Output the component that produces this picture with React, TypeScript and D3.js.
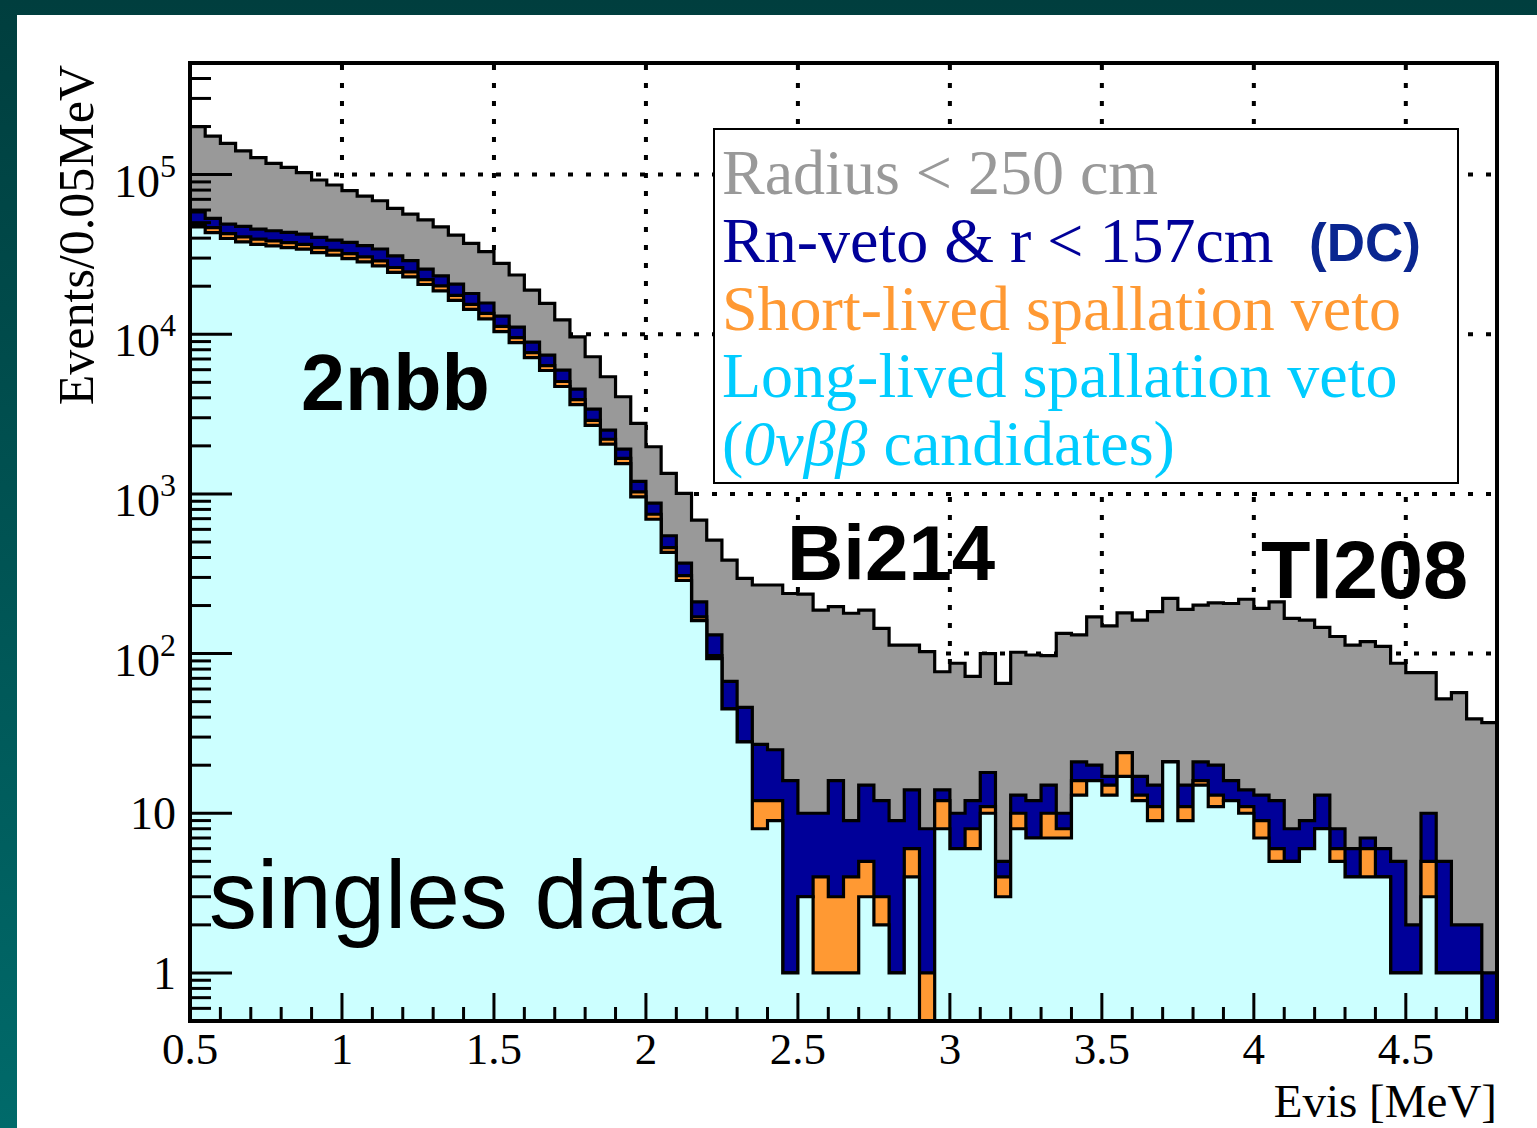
import React from 'react';
import * as d3 from 'd3';

// Histogram binning (Evis, MeV)
const binLow = 0.5;
const binWidth = 0.05;

// Radius < 250 cm (grey)
const radius250 = [199500, 174200, 157000, 140600, 127600, 117700, 111000, 102800, 92500, 86100,
  79300, 73400, 68600, 61500, 56600, 52000, 47100, 41800, 37100, 32900,
  27800, 23500, 18900, 15600, 12300, 9640, 7230, 5420, 4060, 2770,
  1975, 1346, 1009, 686, 514, 385, 296, 269, 269, 238,
  236, 187, 197, 179, 187, 144, 113, 113, 103, 77,
  87, 72, 100, 65, 102, 98, 97, 134, 131, 170,
  149, 180, 162, 183, 222, 189, 201, 208, 206, 219,
  192, 211, 166, 162, 146, 128, 113, 119, 111, 87,
  76, 76, 52, 57, 39, 37];

// Rn-veto & r < 157cm (DC) (navy)
const rnVeto = [58500, 53200, 49000, 47400, 45600, 44500, 43500, 42400, 40400, 38900,
  37600, 35900, 34200, 31000, 28900, 25600, 23200, 20600, 18000, 15700,
  13000, 11100, 8930, 7410, 5970, 4540, 3400, 2510, 1910, 1200,
  877, 547, 369, 211, 131, 67, 46, 27, 25, 16,
  10, 10, 16, 9, 15, 12, 9, 14, 8, 14,
  10, 12, 18, 5, 13, 12, 15, 10, 21, 20,
  17, 24, 17, 15, 21, 15, 21, 20, 16, 14,
  13, 12, 8, 9, 13, 8, 6, 7, 6, 5,
  2, 10, 5, 2, 2, 1];

// Short-lived spallation veto (orange)
const shortVeto = [48300, 46600, 42700, 40700, 39400, 38500, 37500, 36600, 34900, 33600,
  32000, 30500, 28800, 26200, 24600, 22000, 20100, 17500, 15400, 13500,
  11200, 9530, 7680, 6370, 5060, 3900, 2890, 2200, 1670, 1030,
  746, 461, 308, 170, 97, 45, 28, 12, 12, 1,
  3, 4, 3, 4, 5, 3, 1, 6, 1, 12,
  6, 8, 11, 4, 10, 7, 10, 8, 16, 16,
  15, 24, 13, 11, 21, 11, 16, 13, 12, 11,
  9, 6, 5, 6, 8, 6, 4, 6, 4, 1,
  1, 5, 1, 1, 1, 0];

// Long-lived spallation veto (0vbb candidates) (light cyan)
const longVeto = [47000, 43300, 39800, 37900, 36600, 35800, 34900, 34100, 32500, 31300,
  29800, 28400, 26800, 24400, 22900, 20500, 18700, 16300, 14300, 12500,
  10400, 8870, 7150, 5930, 4710, 3630, 2690, 2050, 1550, 959,
  694, 430, 287, 161, 93, 45, 28, 8, 9, 1,
  3, 1, 1, 1, 3, 2, 1, 4, 0, 8,
  6, 6, 10, 3, 8, 7, 7, 7, 13, 16,
  13, 17, 12, 9, 21, 9, 15, 11, 12, 10,
  7, 5, 5, 6, 8, 5, 4, 4, 4, 1,
  1, 3, 1, 1, 1, 0];

const xTickLabels = ['0.5', '1', '1.5', '2', '2.5', '3', '3.5', '4', '4.5'];
const yDecadeExps = [0, 1, 2, 3, 4, 5];

const SERIF = '"Liberation Serif", "Times New Roman", "DejaVu Serif", serif';
const SANS = '"Liberation Sans", Arial, Helvetica, sans-serif';

export default function App() {
  const W = 1537;
  const H = 1128;
  const left = 190, right = 1497, top = 63, bottom = 1021;
  const x = d3.scaleLinear().domain([0.5, 4.8]).range([left, right]);
  const y = d3.scaleLog().domain([0.5, 5e5]).range([bottom, top]);
  const yv = (v: number) => (v > 0 ? y(Math.max(v, 0.5)) : bottom);

  const toPts = (vals: number[]) => {
    const pts = vals.map((v, i) => [x(binLow + i * binWidth), yv(v)] as [number, number]);
    pts.push([x(binLow + vals.length * binWidth), yv(vals[vals.length - 1])]);
    return pts;
  };
  const area = d3.area<[number, number]>().x(d => d[0]).y0(bottom).y1(d => d[1]).curve(d3.curveStepAfter);
  const line = d3.line<[number, number]>().x(d => d[0]).y(d => d[1]).curve(d3.curveStepAfter);
  const outline = (vals: number[]) => {
    const pts = toPts(vals);
    const all: [number, number][] = [[pts[0][0], bottom], ...pts, [pts[pts.length - 1][0], bottom]];
    return line(all) as string;
  };

  const hists = [
    { vals: radius250, fill: '#999999' },
    { vals: rnVeto, fill: '#000099' },
    { vals: shortVeto, fill: '#ff9933' },
    { vals: longVeto, fill: '#ccffff' },
  ];

  // ticks
  const xMinor: number[] = [];
  for (let i = 0; i <= 43; i++) xMinor.push(+(0.5 + i * 0.1).toFixed(2));
  const xMajor = xTickLabels.map(Number);
  const yMinor: number[] = [];
  for (let d = -1; d <= 5; d++) for (let k = 2; k <= 9; k++) {
    const v = k * Math.pow(10, d);
    if (v >= 0.5 && v <= 5e5) yMinor.push(v);
  }
  const yMajor = yDecadeExps.map(e => Math.pow(10, e));

  return (
    <svg width={W} height={H} style={{ position: 'absolute', left: 0, top: 0, display: 'block' }}
      xmlns="http://www.w3.org/2000/svg">
      <defs>
        <linearGradient id="bgGrad" x1="0" y1="0" x2="0" y2="1">
          <stop offset="0" stopColor="#003e3e" />
          <stop offset="1" stopColor="#006a6a" />
        </linearGradient>
      </defs>
      <rect x={0} y={0} width={W} height={H} fill="url(#bgGrad)" />
      <rect x={17} y={15} width={W - 17} height={H - 15} fill="#ffffff" />

      {/* grid */}
      <g stroke="#000" strokeWidth={4} strokeDasharray="5 13">
        {xMajor.filter(v => v > 0.5).map(v => (
          <line key={'gx' + v} x1={x(v)} x2={x(v)} y1={top + 2} y2={bottom} />
        ))}
        {yMajor.map(v => (
          <line key={'gy' + v} x1={left} x2={right} y1={y(v)} y2={y(v)} />
        ))}
      </g>

      {/* histograms */}
      {hists.map((h, i) => (
        <g key={'h' + i}>
          <path d={area(toPts(h.vals)) as string} fill={h.fill} stroke="none" />
          <path d={outline(h.vals)} fill="none" stroke="#000" strokeWidth={3.2} strokeLinejoin="miter" />
        </g>
      ))}

      {/* ticks */}
      <g stroke="#000" strokeWidth={3}>
        {xMinor.map(v => {
          const major = xMajor.some(m => Math.abs(m - v) < 1e-6);
          return <line key={'tx' + v} x1={x(v)} x2={x(v)} y1={bottom} y2={bottom - (major ? 28 : 14)} />;
        })}
        {yMinor.map(v => (
          <line key={'tym' + v} x1={left} x2={left + 21} y1={y(v)} y2={y(v)} />
        ))}
        {yMajor.map(v => (
          <line key={'tyM' + v} x1={left} x2={left + 42} y1={y(v)} y2={y(v)} />
        ))}
      </g>

      {/* frame */}
      <rect x={left} y={top} width={right - left} height={bottom - top} fill="none" stroke="#000" strokeWidth={4} />

      {/* x tick labels */}
      <g fontFamily={SERIF} fontSize={45} textAnchor="middle" fill="#000">
        {xTickLabels.map(t => (
          <text key={'xl' + t} x={x(+t)} y={1064}>{t}</text>
        ))}
      </g>
      {/* y tick labels */}
      <g fontFamily={SERIF} fontSize={46} textAnchor="end" fill="#000">
        {yDecadeExps.map(e => {
          const ty = y(Math.pow(10, e));
          if (e === 0) return <text key="yl0" x={176} y={ty + 16}>1</text>;
          if (e === 1) return <text key="yl1" x={176} y={ty + 16}>10</text>;
          return (
            <text key={'yl' + e} x={176} y={ty + 22}>
              10<tspan dy={-20} fontSize={32}>{String(e)}</tspan>
            </text>
          );
        })}
      </g>

      {/* axis titles */}
      <text x={right} y={1117} fontFamily={SERIF} fontSize={47} textAnchor="end" fill="#000">Evis [MeV]</text>
      <text transform={`translate(93,65) rotate(-90)`} fontFamily={SERIF} fontSize={50} textAnchor="end" fill="#000">
        Events/0.05MeV
      </text>

      {/* annotations */}
      <g fontFamily={SANS} fontWeight="bold" fill="#000">
        <text x={301} y={410} fontSize={79}>2nbb</text>
        <text x={787} y={580} fontSize={78}>Bi214</text>
        <text x={1261} y={598} fontSize={81}>Tl208</text>
      </g>
      <text x={209} y={928} fontFamily={SANS} fontSize={96} fill="#000">singles data</text>

      {/* legend */}
      <rect x={714} y={129} width={744} height={354} fill="#fff" stroke="#000" strokeWidth={2} />
      <g fontFamily={SERIF} fontSize={64}>
        <text x={722} y={194} fill="#999999">{'Radius < 250 cm'}</text>
        <text x={722} y={262} fill="#000099">{'Rn-veto & r < 157cm'}</text>
        <text x={1309} y={261} fill="#0a2690" fontFamily={SANS} fontWeight="bold" fontSize={53}>(DC)</text>
        <text x={722} y={330} fill="#ff9933">Short-lived spallation veto</text>
        <text x={722} y={397} fill="#00ccff">Long-lived spallation veto</text>
        <text x={722} y={465} fill="#00ccff">(<tspan fontStyle="italic">0νββ</tspan> candidates)</text>
      </g>
    </svg>
  );
}
